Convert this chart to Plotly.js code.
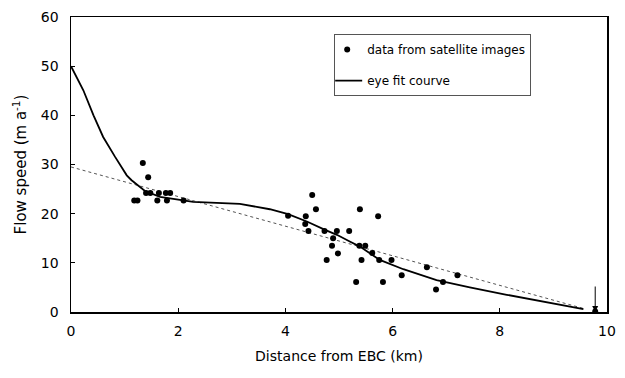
<!DOCTYPE html>
<html>
<head>
<meta charset="utf-8">
<script src="https://cdn.plot.ly/plotly-3.0.1.min.js"></script>
<style>
  html, body { margin: 0; padding: 0; background: #fff; }
  #chart { width: 625px; height: 378px; }
</style>
</head>
<body>
<div id="chart"></div>
<script>
// Satellite-derived flow speeds along the glacier (km from EBC, m/a)
const pointDist = [1.34, 1.44, 1.18, 1.24, 1.40, 1.48, 1.64, 1.77, 1.85, 1.61, 1.79, 2.10,
  4.50, 4.57, 4.05, 4.38, 4.37, 4.43, 4.73, 4.96, 5.19, 5.39, 5.73, 4.89, 4.87, 4.98, 4.77,
  5.38, 5.49, 5.62, 5.42, 5.75, 5.98, 6.17, 5.32, 5.82, 6.64, 6.81, 6.94, 7.21, 9.78];
const pointSpeed = [30.3, 27.4, 22.7, 22.7, 24.2, 24.2, 24.2, 24.2, 24.2, 22.7, 22.7, 22.7,
  23.8, 20.9, 19.6, 19.5, 17.9, 16.5, 16.5, 16.5, 16.5, 20.9, 19.5, 15.0, 13.5, 11.9, 10.6,
  13.5, 13.5, 12.0, 10.6, 10.6, 10.6, 7.5, 6.1, 6.1, 9.1, 4.6, 6.1, 7.5, 0.1];

// Hand-drawn ("eye fit") curve through the data
const curveDist = [0, 0.23, 0.42, 0.60, 0.82, 1.04, 1.13, 1.38, 1.66, 2.28, 3.15, 3.71, 4.05,
  4.40, 4.74, 4.96, 5.21, 5.39, 5.76, 6.20, 6.82, 7.44, 8.13, 9.56];
const curveSpeed = [50, 45.1, 40.0, 35.6, 31.6, 27.8, 26.8, 24.6, 23.4, 22.4, 22.0, 20.9, 19.9,
  18.4, 16.7, 15.7, 14.3, 13.3, 10.6, 8.7, 6.5, 5.0, 3.5, 0.6];

// Linear trend line
const trendDist = [0, 9.6];
const trendSpeed = [29.5, 0.6];

// Terminus marker
const terminusDist = 9.78;
const terminusSpeed = 0;

const xTicks = [0, 2, 4, 6, 8, 10];
const yTicks = [0, 10, 20, 30, 40, 50, 60];

const fontFam = '"DejaVu Sans", Verdana, sans-serif';

const traces = [
  {
    x: trendDist, y: trendSpeed, mode: 'lines', showlegend: false,
    line: { color: '#555', width: 1, dash: 'dot' }, hoverinfo: 'skip'
  },
  {
    x: pointDist, y: pointSpeed, mode: 'markers', name: 'data from satellite images',
    legendgroup: 'pts', legendrank: 1,
    marker: { color: '#000', size: 6 }
  },
  {
    x: curveDist, y: curveSpeed, mode: 'lines', name: 'eye fit courve',
    legendgroup: 'fit', legendrank: 2,
    line: { color: '#000', width: 1.8 }
  }
];

const layout = {
  width: 625, height: 378,
  margin: { l: 71, r: 18, t: 17, b: 66 },
  paper_bgcolor: '#fff', plot_bgcolor: '#fff',
  font: { family: fontFam, size: 14, color: '#000' },
  xaxis: {
    range: [0, 10], tickvals: xTicks, ticktext: xTicks.map(String),
    ticks: 'inside', ticklen: 4, tickwidth: 1, tickcolor: '#000',
    showline: true, linecolor: '#000', linewidth: 1.5, mirror: true,
    showgrid: false, zeroline: false, ticklabelstandoff: 6,
    tickfont: { size: 14 },
    title: { text: 'Distance from EBC (km)', font: { size: 14 }, standoff: 13 }
  },
  yaxis: {
    range: [0, 60], tickvals: yTicks, ticktext: yTicks.map(String),
    ticks: 'inside', ticklen: 4, tickwidth: 1, tickcolor: '#000',
    showline: true, linecolor: '#000', linewidth: 1.5, mirror: true,
    showgrid: false, zeroline: false, ticklabelstandoff: 8,
    tickfont: { size: 14 },
    title: { text: 'Flow speed (m a<sup>-1</sup>)', font: { size: 15 }, standoff: 10 }
  },
  legend: {
    x: 0.491, y: 0.942, xanchor: 'left', yanchor: 'top',
    bgcolor: '#fff', bordercolor: '#555', borderwidth: 1,
    font: { size: 12, family: fontFam },
    traceorder: 'grouped', tracegroupgap: 12, itemwidth: 30, indentation: -8
  },
  annotations: [{
    x: terminusDist, y: terminusSpeed, xref: 'x', yref: 'y',
    ax: 0, ay: -27, showarrow: true, arrowhead: 2, arrowsize: 1.2,
    arrowwidth: 1, arrowcolor: '#000', text: ''
  }],
  showlegend: true
};

Plotly.newPlot('chart', traces, layout, { staticPlot: true, displayModeBar: false });
</script>
</body>
</html>
